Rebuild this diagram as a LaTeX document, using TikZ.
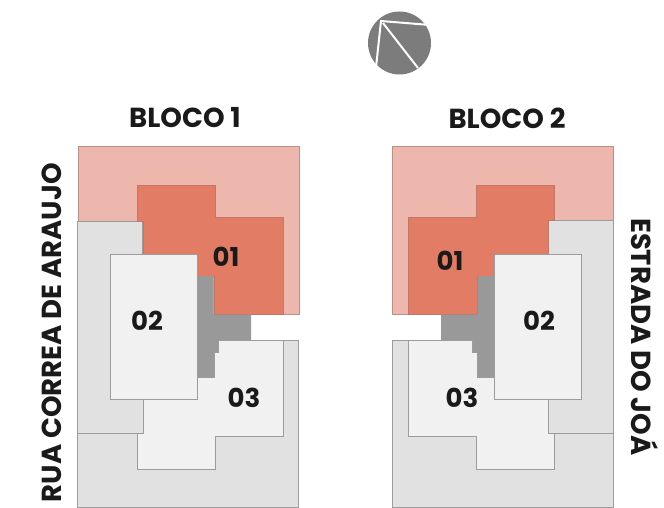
\documentclass[tikz,border=0pt]{standalone}
\usepackage{fontspec}
\setmainfont{Poppins}[BoldFont={Poppins Bold}]
\definecolor{pinkarea}{HTML}{EDB7AD}
\definecolor{pinkline}{HTML}{BC8F88}
\definecolor{salmon}{HTML}{E27C64}
\definecolor{salmonline}{HTML}{BD7868}
\definecolor{lightarea}{HTML}{E1E1E1}
\definecolor{unitarea}{HTML}{F1F1F1}
\definecolor{corearea}{HTML}{999999}
\definecolor{edgeline}{HTML}{9C9C9C}
\definecolor{compass}{HTML}{7C7C7C}
\definecolor{ink}{HTML}{1A1A1A}
\tikzset{
  pinkzone/.style={fill=pinkarea,draw=pinkline,line width=.8pt},
  unitone/.style={fill=salmon,draw=salmonline,line width=.8pt},
  greyzone/.style={fill=lightarea,draw=edgeline,line width=.9pt},
  unitbox/.style={fill=unitarea,draw=edgeline,line width=1pt},
  corezone/.style={fill=corearea},
  unitlabel/.style={font=\bfseries\fontsize{26}{26}\selectfont,text=ink,inner sep=0pt},
  title/.style={font=\bfseries\fontsize{27.5}{28}\selectfont,text=ink,inner sep=0pt},
  street/.style={font=\bfseries\fontsize{27.5}{28}\selectfont,text=ink,inner sep=0pt},
  needle/.style={draw=white,line width=2pt}
}
\begin{document}
\begin{tikzpicture}[x=1pt,y=-1pt]
\useasboundingbox (0,0) rectangle (664,508);
% compass
\fill[compass] (399.5,43) circle (31.5pt);
\draw[needle] (375.5,72) -- (381,21) -- (430,25);
\draw[needle] (383,23) -- (418,68);
% block 1
\draw[pinkzone] (78,146) rectangle (299,314);
\draw[greyzone] (77,221) -- (142,221) -- (142,340) -- (298,340) -- (298,507) -- (77,507) -- cycle;
\draw[greyzone] (77,433) -- (143,433);
\draw[unitone] (137.5,185) -- (215.5,185) -- (215.5,217) -- (283,217) -- (283,314) -- (214,314) -- (214,276) -- (143,276) -- (143,221) -- (137.5,221) -- cycle;
\fill[corezone] (197,276) -- (213.5,276) -- (213.5,314.5) -- (251,314.5) -- (251,340) -- (218,340) -- (218,352) -- (215,352) -- (215,377) -- (197,377) -- cycle;
\draw[unitbox] (218,340) -- (283,340) -- (283,436) -- (215.5,436) -- (215.5,469) -- (137.5,469) -- (137.5,433) -- (143,433) -- (143,399) -- (197,399) -- (197,377) -- (214,377) -- (214,352) -- (218,352) -- cycle;
\draw[unitbox] (110,254) rectangle (197,399);
% block 2
\draw[pinkzone] (392,146) rectangle (613,314);
\draw[greyzone] (613,220) -- (548,220) -- (548,340) -- (392,340) -- (392,507) -- (613,507) -- cycle;
\draw[greyzone] (613,433) -- (548,433);
\draw[unitone] (554,185) -- (476,185) -- (476,217) -- (408,217) -- (408,314) -- (477,314) -- (477,276) -- (548,276) -- (548,220) -- (554,220) -- cycle;
\fill[corezone] (494,276) -- (477.5,276) -- (477.5,314.5) -- (441,314.5) -- (441,340) -- (472,340) -- (472,352) -- (477,352) -- (477,377) -- (494,377) -- cycle;
\draw[unitbox] (472,340) -- (408.5,340) -- (408.5,436) -- (476.5,436) -- (476.5,469) -- (554,469) -- (554,433) -- (548,433) -- (548,399) -- (494,399) -- (494,377) -- (477,377) -- (477,352) -- (472,352) -- cycle;
\draw[unitbox] (494,254) rectangle (581.5,399);
% labels
\node[unitlabel] (a1) at (226,257) {01};
\node[unitlabel] (a2) at (147,321) {02};
\node[unitlabel] (a3) at (244,398) {03};
\node[unitlabel] (b1) at (450,261) {01};
\node[unitlabel] (b2) at (539,321) {02};
\node[unitlabel] (b3) at (462,398) {03};
\node[title] (t1) at (185,118) {BLOCO 1};
\node[title] (t2) at (507,118) {BLOCO 2};
\node[street,rotate=90,anchor=east] (s1) at (52,163) {RUA CORREA DE ARAUJO};
\node[street,rotate=-90,anchor=west] (s2) at (645,218) {ESTRADA DO JOÁ};
\end{tikzpicture}
\end{document}
